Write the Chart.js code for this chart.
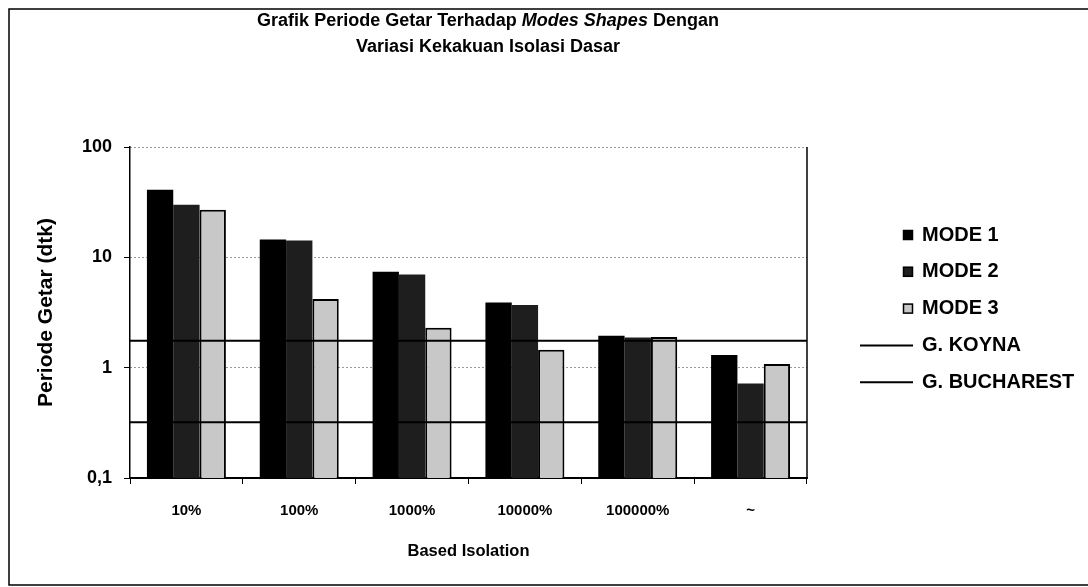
<!DOCTYPE html>
<html>
<head>
<meta charset="utf-8">
<script src="https://cdn.jsdelivr.net/npm/chart.js@4.4.1/dist/chart.umd.min.js"></script>
<style>
  html, body { margin: 0; padding: 0; background: #fff; }
</style>
</head>
<body>
<canvas id="grafikPeriode" width="1088" height="587"></canvas>
<script>
// data (skala log)
const kategori = ["10%", "100%", "1000%", "10000%", "100000%", "~"];
const mode1 = [41, 14.5, 7.4, 3.9, 1.95, 1.3];
const mode2 = [30, 14.2, 7.0, 3.7, 1.88, 0.72];
const mode3 = [27, 4.2, 2.3, 1.45, 1.9, 1.08];
const periodeKoyna = 1.75;
const periodeBucharest = 0.32;
const ticksY = [0.1, 1, 10, 100];
const labelTicksY = ["0,1", "1", "10", "100"];
const judul = [
  [["Grafik Periode Getar Terhadap ", false], ["Modes Shapes", true], [" Dengan", false]],
  [["Variasi Kekakuan Isolasi Dasar", false]]
];

const fonte = "'Liberation Sans', Arial, sans-serif";
Chart.defaults.font.family = fonte;
Chart.defaults.color = "#000";

// garis mendatar dari tepi kiri sampai tepi kanan sumbu kategori
function garisHorizontal(nilai) {
  return [{ x: -0.5, y: nilai }, { x: kategori.length - 0.5, y: nilai }];
}

// judul dengan sebagian teks miring
const judulKustom = {
  id: "judulKustom",
  afterDraw(chart) {
    const ctx = chart.ctx;
    const tengahX = 488;
    const barisY = [21, 47];
    ctx.save();
    ctx.fillStyle = "#000";
    ctx.textBaseline = "middle";
    judul.forEach((baris, i) => {
      let lebar = 0;
      baris.forEach(([teks, miring]) => {
        ctx.font = (miring ? "italic " : "") + "bold 18px " + fonte;
        lebar += ctx.measureText(teks).width;
      });
      let x = tengahX - lebar / 2;
      baris.forEach(([teks, miring]) => {
        ctx.font = (miring ? "italic " : "") + "bold 18px " + fonte;
        ctx.fillText(teks, x, barisY[i]);
        x += ctx.measureText(teks).width;
      });
    });
    ctx.restore();
  }
};

const legendaKustom = {
  id: "legendaKustom",
  afterDraw(chart) {
    const ctx = chart.ctx;
    ctx.save();
    ctx.font = "bold 20px " + fonte;
    ctx.textBaseline = "middle";
    chart.data.datasets.forEach((ds, i) => {
      const y = 235 + i * 36.8;
      if (ds.type === "line") {
        ctx.strokeStyle = ds.borderColor;
        ctx.lineWidth = 2;
        ctx.beginPath();
        ctx.moveTo(860, y);
        ctx.lineTo(913, y);
        ctx.stroke();
      } else {
        ctx.fillStyle = ds.backgroundColor;
        ctx.fillRect(903, y - 5, 10, 10);
        ctx.strokeStyle = "#000";
        ctx.lineWidth = 1.5;
        ctx.strokeRect(903.5, y - 4.5, 9, 9);
      }
      ctx.fillStyle = "#000";
      ctx.fillText(ds.label, 922, y);
    });
    ctx.restore();
  }
};

const bingkai = {
  id: "bingkai",
  beforeDraw(chart) {
    const ctx = chart.ctx;
    ctx.save();
    ctx.fillStyle = "#fff";
    ctx.fillRect(0, 0, chart.width, chart.height);
    ctx.restore();
  },
  afterDraw(chart) {
    const { ctx, chartArea } = chart;
    ctx.save();
    ctx.strokeStyle = "#000";
    ctx.lineWidth = 1.5;
    ctx.beginPath();
    ctx.moveTo(chartArea.right, chartArea.top);
    ctx.lineTo(chartArea.right, chartArea.bottom);
    ctx.stroke();
    // bingkai halaman
    ctx.beginPath();
    ctx.moveTo(chart.width, 9);
    ctx.lineTo(9, 9);
    ctx.lineTo(9, 585);
    ctx.lineTo(chart.width, 585);
    ctx.stroke();
    ctx.restore();
  }
};

const ctx = document.getElementById("grafikPeriode").getContext("2d");
new Chart(ctx, {
  type: "bar",
  data: {
    labels: kategori,
    datasets: [
      { label: "MODE 1", data: mode1, backgroundColor: "#000", borderWidth: 0, order: 2 },
      { label: "MODE 2", data: mode2, backgroundColor: "#1e1e1e", borderWidth: 0, order: 2 },
      { label: "MODE 3", data: mode3, backgroundColor: "#c8c8c8", borderColor: "#000", borderWidth: 2, order: 2 },
      {
        type: "line", label: "G. KOYNA", data: garisHorizontal(periodeKoyna), parsing: false,
        borderColor: "#000", borderWidth: 2, pointRadius: 0, order: 1
      },
      {
        type: "line", label: "G. BUCHAREST", data: garisHorizontal(periodeBucharest), parsing: false,
        borderColor: "#000", borderWidth: 2, pointRadius: 0, order: 1
      }
    ]
  },
  options: {
    responsive: false,
    animation: false,
    devicePixelRatio: 1,
    datasets: { bar: { categoryPercentage: 0.7, barPercentage: 1.0 } },
    layout: { padding: { top: 147, right: 281, left: 0, bottom: 0 } },
    plugins: {
      legend: { display: false },
      title: { display: false },
      tooltip: { enabled: false }
    },
    scales: {
      x: {
        type: "category",
        offset: true,
        min: 0,
        max: kategori.length - 1,
        grid: { offset: true, drawOnChartArea: false, drawTicks: true, tickLength: 6, color: "#000", lineWidth: 1 },
        border: { color: "#000", width: 2 },
        ticks: { font: { size: 15, weight: "bold" }, padding: 18, maxRotation: 0 },
        title: { display: true, text: "Based Isolation", font: { size: 16.5, weight: "bold" }, padding: { top: 0, bottom: 26 } },
        afterFit: (s) => { s.height = 109; }
      },
      y: {
        type: "logarithmic",
        min: 0.1,
        max: 100,
        afterBuildTicks: (s) => { s.ticks = ticksY.map((v) => ({ value: v })); },
        ticks: {
          font: { size: 18, weight: "bold" },
          padding: 12,
          callback: (v, i) => labelTicksY[i]
        },
        grid: { color: "#333", lineWidth: 1, tickBorderDash: [6, 0], tickLength: 6, tickColor: "#000" },
        border: { color: "#000", width: 1.5, dash: [1, 3] },
        title: { display: true, text: "Periode Getar (dtk)", font: { size: 21, weight: "bold" }, padding: { top: 34, bottom: 0 } },
        afterFit: (s) => { s.width = 130; }
      }
    }
  },
  plugins: [bingkai, judulKustom, legendaKustom]
});
</script>
</body>
</html>
